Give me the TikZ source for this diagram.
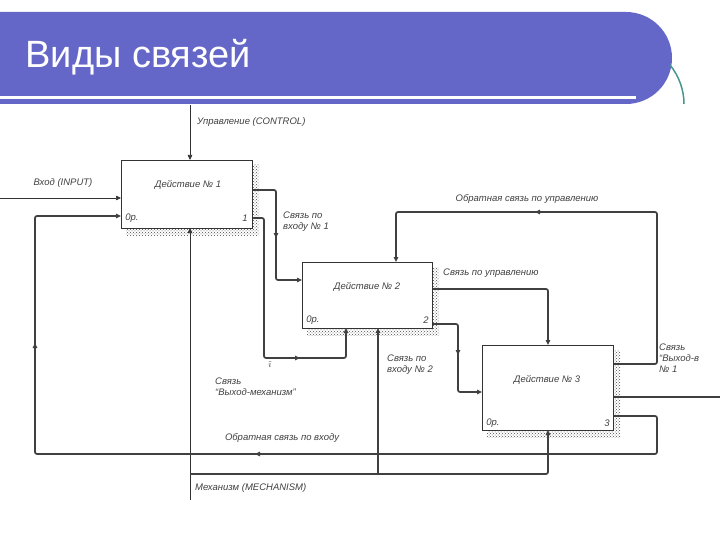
\documentclass[tikz,border=0pt]{standalone}
\usepackage{fontspec}
\setmainfont{Liberation Sans}
\usetikzlibrary{patterns,arrows.meta}
\definecolor{hdr}{RGB}{101,103,200}
\definecolor{teal1}{RGB}{70,150,140}
\begin{document}
\begin{tikzpicture}[x=1pt,y=-1pt,
 box/.style={draw=black!80,line width=1.4pt,fill=white,anchor=north west,inner sep=0pt},
 lbl/.style={font=\itshape\fontsize{9.5}{11}\selectfont,text=black!75,align=left,inner sep=0pt},
 ln/.style={draw=black!75,line width=1.7pt,rounded corners=2pt},
 thin/.style={draw=black!80,line width=0.7pt},
 arr/.style={-{Triangle[length=5pt,width=4.5pt]}}]
\useasboundingbox (0,0) rectangle (720,540);
% header
\fill[hdr] (0,12) {[rounded corners=46pt] -- (672,12) -- (672,104)} -- (0,104) -- cycle;
\fill[white] (0,96) rectangle (636,99);
\draw[teal1,line width=1.5pt] (670,65) .. controls (679,76) and (684,90) .. (684,104);
\node[text=white,font=\fontsize{38}{40}\selectfont,anchor=west] (title) at (22,57) {Виды связей};
% shadows
\foreach \x/\y/\w/\h in {121/160/131/68, 302/262/130/66, 482/345/131/85}{
 \fill[pattern=crosshatch dots,pattern color=black!70] (\x+5,\y+5) rectangle (\x+\w+7,\y+\h+7);}
% boxes
\node[box,minimum width=131pt,minimum height=68pt] (b1) at (121,160) {};
\node[box,minimum width=130pt,minimum height=66pt] (b2) at (302,262) {};
\node[box,minimum width=131pt,minimum height=85pt] (b3) at (482,345) {};
\node[lbl] (t1) at (188,185) {Действие № 1};
\node[lbl] (t2) at (367,287) {Действие № 2};
\node[lbl] (t3) at (547,380) {Действие № 3};
\node[lbl] (o1) at (132,218) {0р.};
\node[lbl] (o2) at (313,320) {0р.};
\node[lbl] (o3) at (493,423) {0р.};
\node[lbl] (n1) at (245,218) {1};
\node[lbl] (n2) at (426,320) {2};
\node[lbl] (n3) at (607,423) {3};
% coordinates
\coordinate (ctop) at (190,105);
\coordinate (inl) at (0,198);
\coordinate (mbot) at (190,500);
% control
\draw[thin,arr] (ctop) -- (b1.north west -| ctop);
\node[lbl,anchor=west] (lc) at (197,122) {Управление (CONTROL)};
% input
\draw[thin,arr] (inl) -- (121,198);
\node[lbl] (li) at (63,183) {Вход (INPUT)};
% mechanism
\draw[thin,arr] (mbot) -- (190,228);
\draw[ln,arr] (190,474) -- (548,474) -- (548,430);
\draw[ln,arr] (378,474) -- (378,328);
\node[lbl,anchor=west] (lm) at (195,488) {Механизм (MECHANISM)};
% box1 -> box2 input
\draw[ln,arr] (253,190) -- (276,190) -- (276,238);
\draw[ln,arr] (276,236) -- (276,280) -- (302,280);
\node[lbl,anchor=west] (l1) at (283,222) {Связь по\\входу № 1};
% box1 -> box2 mechanism
\draw[ln,arr] (253,218) -- (264,218) -- (264,358) -- (300,358);
\draw[ln,arr] (298,358) -- (346,358) -- (346,328);
\node[lbl] (tl) at (270,364) {$\tilde{\imath}$};
\node[lbl,anchor=west] (l2) at (215,387) {Связь\\“Выход-механизм”};
% box2 -> box3 control
\draw[ln,arr] (433,289) -- (548,289) -- (548,345);
\node[lbl,anchor=west] (l3) at (443,273) {Связь по управлению};
% box2 -> box3 input
\draw[ln,arr] (433,324) -- (458,324) -- (458,355);
\draw[ln,arr] (458,352) -- (458,392) -- (482,392);
\node[lbl,anchor=west] (l4) at (387,365) {Связь по\\входу № 2};
% feedback control
\draw[ln,arr] (614,364) -- (657,364) -- (657,212) -- (535,212);
\draw[ln,arr] (537,212) -- (396,212) -- (396,262);
\node[lbl] (l5) at (527,199) {Обратная связь по управлению};
% output
\draw[ln] (614,397) -- (720,397);
% feedback input
\draw[ln,arr] (614,416) -- (657,416) -- (657,454) -- (255,454);
\draw[ln,arr] (258,454) -- (35,454) -- (35,343);
\draw[ln,arr] (35,346) -- (35,216) -- (121,216);
\node[lbl] (l7) at (282,438) {Обратная связь по входу};
\node[lbl,anchor=west] (l6) at (659,358) {Связь\\“Выход-в\\№ 1};
\end{tikzpicture}
\end{document}
